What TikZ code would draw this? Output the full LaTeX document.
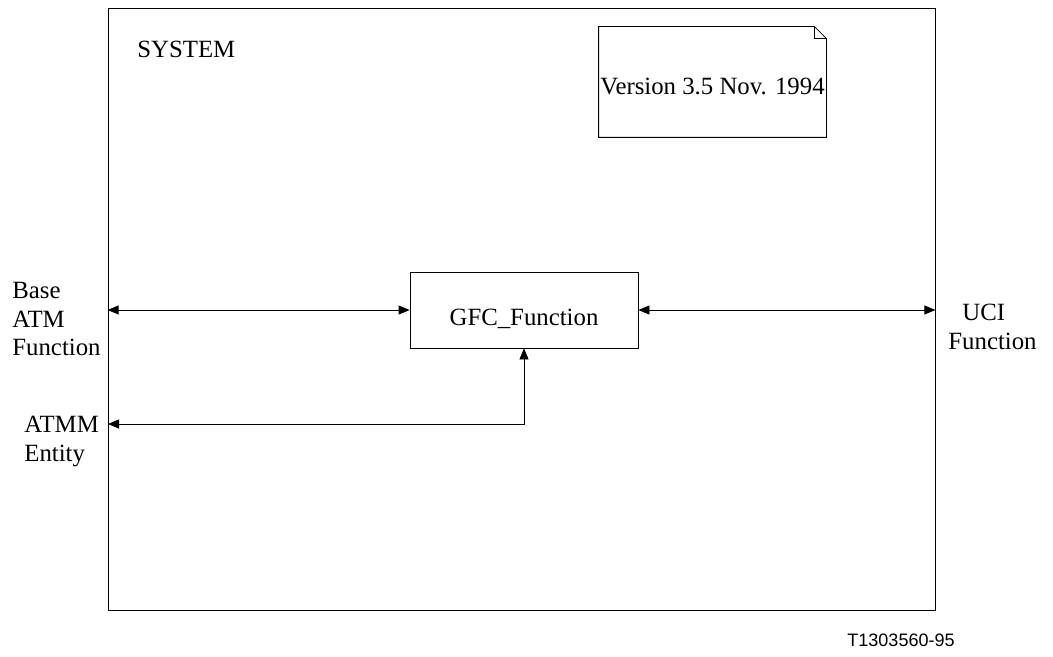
\documentclass[tikz,border=0pt]{standalone}
\usepackage{fontspec}
\setmainfont{Liberation Serif}
\newfontfamily\figidfont{Liberation Sans}
\usetikzlibrary{arrows.meta}
\tikzset{>={Triangle[length=5.5pt,width=4.5pt]}, line width=0.65pt}
\tikzset{
  txt/.style={font=\fontsize{12.4}{14.2}\selectfont},
  frame/.style={draw, minimum width=413.5pt, minimum height=301pt, inner sep=0pt},
  fbox/.style={draw, txt, minimum width=114pt, minimum height=38pt, inner sep=0pt, text height=15.3pt, text depth=0pt},
  ext/.style={txt, align=left, anchor=north west, inner sep=0pt}
}

\begin{document}
\begin{tikzpicture}[x=0.5pt,y=-0.5pt]
  \path[use as bounding box] (0,0) rectangle (1053,657);

  % system frame
  \node[frame] (sys) at (521.5,309) {};
  \node[txt, anchor=base west, inner sep=0pt] (sysname) at (137,58) {SYSTEM};

  % version note
  \node[txt, minimum width=113.5pt, minimum height=55pt, inner sep=0pt, text height=12.2pt, text depth=0pt] (note) at (712.5,82) {Version 3.5 Nov. 1994};
  \draw (note.north east) ++(-12,0) coordinate (fold)
    (note.north west) -- (fold) -- ([yshift=-6pt]note.north east) -- (note.south east) -- (note.south west) -- cycle
    (fold) -- ++(0,12) -- ++(12,0);

  % function block
  \node[fbox] (gfc) at (524,310) {GFC\_Function};

  % outside entities
  \node[ext] (base) at (12,282) {Base\\ATM\\Function};
  \node[ext] (atmm) at (24,416) {ATMM\\Entity};
  \node[ext] (uci) at (948,304) {\hspace{7pt}UCI\\Function};

  % links
  \coordinate (pl) at (sys.west |- gfc.west);
  \coordinate (pr) at (sys.east |- gfc.east);
  \coordinate (pa) at (108,424);
  \draw[<->] (pl) -- (gfc.west);
  \draw[<->] (gfc.east) -- (pr);
  \draw[<->] (pa) -| (gfc.south);

  \node[anchor=center, inner sep=0pt, font=\figidfont\fontsize{9}{11}\selectfont] (figid) at (901,640) {T1303560-95};
\end{tikzpicture}
\end{document}
